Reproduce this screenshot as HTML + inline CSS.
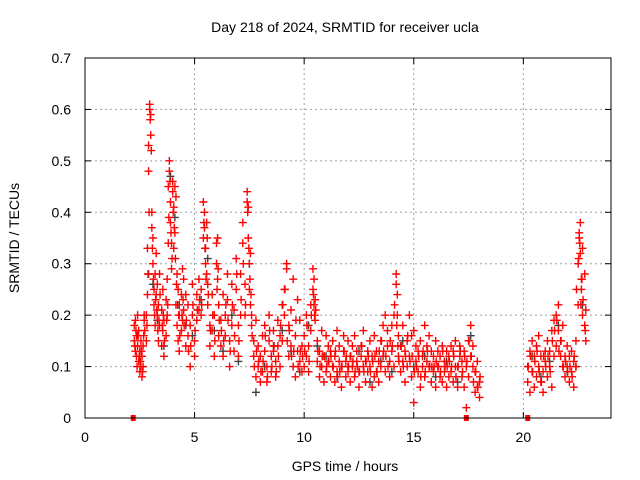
<!DOCTYPE html>
<html><head><meta charset="utf-8"><style>
body{margin:0;background:#fff}
svg{display:block;font-family:"Liberation Sans",sans-serif}
</style></head><body>
<svg id="chart" width="640" height="480" viewBox="0 0 640 480">
<rect width="640" height="480" fill="#fff"/>
<g id="grid"></g>
<g id="ticks"></g>
<g id="black"></g>
<g id="red"></g>
<rect x="85" y="58" width="526" height="360" fill="none" stroke="#000"/>
<text x="345" y="32" text-anchor="middle" font-size="14">Day 218 of 2024, SRMTID for receiver ucla</text>
<text x="345" y="471" text-anchor="middle" font-size="14">GPS time / hours</text>
<text transform="translate(19,238) rotate(-90)" text-anchor="middle" font-size="14">SRMTID / TECUs</text>
</svg>
<script>
const xTicks=[0,5,10,15,20];
const yTicks=[0,0.1,0.2,0.3,0.4,0.5,0.6,0.7];
const yTickLabels=["0","0.1","0.2","0.3","0.4","0.5","0.6","0.7"];
const gapTimes=[2.2,17.4,20.2];
const times=[2.25,2.3,2.35,2.4,2.45,2.5,2.55,2.6,2.65,2.7,2.8,2.85,2.9,2.95,3.0,3.05,3.1,3.15,3.2,3.25,3.3,3.35,3.4,3.5,3.55,3.6,3.7,3.75,3.8,3.85,3.9,3.95,4.0,4.05,4.1,4.15,4.2,4.25,4.3,4.4,4.45,4.5,4.6,4.7,4.8,4.9,5.0,5.1,5.2,5.3,5.4,5.45,5.5,5.55,5.6,5.7,5.8,5.9,6.0,6.05,6.1,6.2,6.3,6.4,6.5,6.6,6.7,6.8,6.9,7.0,7.1,7.2,7.3,7.4,7.45,7.5,7.55,7.6,7.7,7.8,7.9,8.0,8.1,8.2,8.3,8.4,8.5,8.6,8.7,8.8,8.9,9.0,9.1,9.2,9.3,9.4,9.5,9.6,9.7,9.8,9.9,10.0,10.1,10.2,10.3,10.4,10.45,10.5,10.6,10.7,10.8,10.9,11.0,11.1,11.2,11.3,11.4,11.5,11.6,11.7,11.8,11.9,12.0,12.1,12.2,12.3,12.4,12.5,12.6,12.7,12.8,12.9,13.0,13.1,13.2,13.3,13.4,13.5,13.6,13.7,13.8,13.9,14.0,14.1,14.2,14.25,14.3,14.4,14.5,14.6,14.7,14.8,14.9,15.0,15.1,15.2,15.3,15.4,15.5,15.6,15.7,15.8,15.9,16.0,16.1,16.2,16.3,16.4,16.5,16.6,16.7,16.8,16.9,17.0,17.1,17.2,17.3,17.4,17.5,17.6,17.7,17.8,17.9,18.0,20.2,20.3,20.4,20.5,20.6,20.7,20.8,20.9,21.0,21.1,21.2,21.3,21.4,21.5,21.6,21.7,21.8,21.9,22.0,22.1,22.2,22.3,22.4,22.5,22.55,22.6,22.65,22.7,22.8,22.85];
const valuesA=[.18,.13,.16,.2,.11,.09,.1,.12,.1,.19,.2,.24,.48,.6,.59,.4,.35,.25,.28,.32,.26,.15,.18,.21,.25,.19,.23,.27,.34,.5,.42,.34,.46,.41,.45,.43,.28,.25,.2,.24,.29,.27,.14,.22,.18,.26,.15,.24,.21,.25,.35,.4,.33,.38,.26,.18,.24,.12,.34,.35,.22,.14,.24,.2,.28,.15,.26,.21,.31,.18,.2,.34,.26,.44,.41,.3,.32,.18,.15,.19,.14,.07,.16,.13,.1,.15,.12,.17,.11,.19,.1,.22,.25,.3,.18,.21,.27,.16,.23,.19,.14,.1,.12,.09,.22,.29,.27,.23,.15,.13,.1,.12,.16,.11,.08,.15,.12,.09,.14,.1,.13,.08,.15,.12,.1,.16,.11,.09,.14,.17,.07,.13,.1,.12,.16,.09,.11,.15,.18,.2,.14,.11,.13,.2,.28,.24,.16,.09,.18,.13,.15,.12,.08,.17,.11,.09,.15,.12,.18,.14,.1,.07,.12,.15,.1,.08,.14,.11,.06,.12,.09,.13,.15,.1,.12,.08,.13,.1,.15,.18,.14,.09,.11,.07,.1,.13,.09,.12,.14,.1,.07,.09,.11,.15,.13,.17,.19,.2,.22,.15,.18,.12,.1,.07,.13,.11,.15,.22,.35,.38,.27,.33,.28,.15];
const valuesB=[.15,.19,.12,.14,.17,.13,.15,.08,.14,.2,.15,.33,.53,.61,.55,.37,.3,.22,.18,.24,.2,.22,.28,.14,.17,.12,.16,.2,.45,.48,.38,.29,.44,.33,.36,.22,.18,.15,.13,.17,.19,.21,.24,.16,.1,.2,.12,.19,.27,.2,.42,.37,.3,.28,.22,.14,.17,.2,.3,.27,.16,.19,.12,.16,.23,.1,.18,.13,.25,.12,.28,.38,.2,.42,.35,.25,.22,.2,.12,.08,.1,.12,.09,.18,.07,.2,.09,.13,.08,.14,.16,.15,.2,.29,.12,.14,.1,.08,.13,.11,.09,.16,.2,.14,.17,.25,.22,.19,.11,.08,.17,.07,.09,.14,.13,.1,.07,.17,.11,.06,.16,.11,.09,.07,.14,.08,.13,.06,.12,.1,.11,.09,.15,.06,.08,.13,.07,.1,.12,.09,.17,.08,.18,.1,.26,.2,.12,.14,.11,.07,.1,.2,.16,.03,.14,.13,.06,.1,.08,.11,.16,.13,.09,.06,.13,.12,.07,.09,.13,.08,.14,.07,.1,.06,.14,.11,.06,.02,.08,.12,.1,.05,.06,.04,.07,.05,.15,.06,.08,.16,.12,.05,.13,.08,.1,.06,.12,.14,.17,.12,.1,.08,.14,.12,.09,.06,.1,.3,.36,.32,.25,.2,.18,.21];
const valuesC=[.14,.17,.1,.16,.12,.11,.13,.09,.16,.17,.18,.28,.4,.58,.52,.33,.27,.2,.23,.21,.17,.19,.24,.18,.2,.15,.19,.22,.39,.46,.36,.31,.4,.37,.31,.26,.22,.2,.16,.2,.23,.18,.19,.13,.14,.22,.17,.21,.23,.22,.38,.33,.27,.35,.24,.17,.2,.15,.25,.29,.19,.17,.15,.22,.19,.13,.22,.16,.28,.15,.23,.3,.22,.4,.33,.27,.24,.16,.1,.13,.11,.09,.11,.16,.08,.17,.1,.14,.09,.12,.18,.22,.25,.15,.17,.12,.13,.19,.1,.13,.12,.13,.18,.11,.2,.24,.2,.21,.13,.1,.12,.12,.1,.11,.12,.1,.13,.08,.09,.1,.13,.12,.1,.12,.11,.09,.1,.09,.14,.09,.11,.12,.09,.11,.12,.09,.13,.15,.13,.12,.1,.15,.14,.22,.18,.14,.11,.14,.1,.12,.16,.11,.12,.09,.1,.12,.08,.13,.09,.13,.1,.1,.1,.11,.1,.09,.13,.1,.1,.11,.1,.12,.08,.1,.13,.09,.12,.11,.15,.12,.07,.09,.06,.08,.1,.12,.09,.11,.13,.09,.07,.12,.1,.12,.09,.15,.17,.19,.13,.15,.1,.11,.09,.1,.08,.12,.25,.31,.34,.22,.27,.23,.17];
const blackTimes=[2.4,2.9,3.1,3.3,3.6,3.9,4.1,4.3,4.6,4.9,5.3,5.6,5.9,6.3,6.7,7.0,7.5,7.8,8.2,8.6,9.0,9.4,9.8,10.2,10.6,11.0,11.5,12.0,12.5,13.0,13.5,14.0,14.5,15.0,15.5,16.0,16.5,17.0,17.6,20.4,20.8,21.2,21.6,22.0,22.4,22.7];
const blackValues=[.16,.28,.26,.19,.14,.47,.39,.22,.18,.16,.23,.31,.17,.13,.2,.11,.3,.05,.1,.14,.17,.13,.09,.18,.14,.12,.08,.1,.13,.07,.11,.09,.15,.1,.12,.08,.11,.07,.16,.12,.08,.11,.18,.09,.1,.22];
const X0=85,X1=611,Y0=418,Y1=58,XMAX=24,YMAX=0.7;
const xs=t=>X0+(X1-X0)*t/XMAX;
const ys=v=>Y0-(Y0-Y1)*v/YMAX;
const NS="http://www.w3.org/2000/svg";
function mk(tag,attrs,parent){const e=document.createElementNS(NS,tag);for(const k in attrs)e.setAttribute(k,attrs[k]);parent.appendChild(e);return e;}
const grid=document.getElementById('grid'),ticks=document.getElementById('ticks');
xTicks.forEach(t=>{const x=xs(t);
 if(t>0){const g=mk('line',{x1:x,x2:x,y1:Y1,y2:Y0,stroke:'#a0a0a0','stroke-dasharray':'2,3'},grid);}
 mk('line',{x1:x,x2:x,y1:Y0,y2:Y0-6,stroke:'#000'},ticks);mk('line',{x1:x,x2:x,y1:Y1,y2:Y1+6,stroke:'#000'},ticks);
 const l=mk('text',{x:x,y:442,'text-anchor':'middle','font-size':'14'},ticks);l.textContent=t;
 });
yTicks.forEach((v,i)=>{const y=ys(v);
 if(v>0&&v<0.7){const g=mk('line',{x1:X0,x2:X1,y1:y,y2:y,stroke:'#a0a0a0','stroke-dasharray':'2,3'},grid);}
 mk('line',{x1:X0,x2:X0+6,y1:y,y2:y,stroke:'#000'},ticks);mk('line',{x1:X1,x2:X1-6,y1:y,y2:y,stroke:'#000'},ticks);
 const l=mk('text',{x:71,y:y+5,'text-anchor':'end','font-size':'14'},ticks);l.textContent=yTickLabels[i];
 });
function plus(g,t,v,c){if(v===undefined)return;const x=xs(t),y=ys(v);
 const p=mk('path',{d:`M${x-4},${y}H${x+4}M${x},${y-4}V${y+4}`,stroke:c,'stroke-width':1.4,fill:'none'},g);
 
 }
const bg=document.getElementById('black'),rg=document.getElementById('red');
blackTimes.forEach((t,i)=>plus(bg,t,blackValues[i],'#404040'));
times.forEach((t,i)=>{plus(rg,t,valuesA[i],'#ff0000');plus(rg,t,valuesB[i],'#ff0000');plus(rg,t+0.025,valuesC[i],'#ff0000');});
gapTimes.forEach(t=>{const r=mk('rect',{x:xs(t)-2.5,y:Y0-3,width:5,height:6,fill:'#ff0000'},rg);
 
 });
</script>
</body></html>
